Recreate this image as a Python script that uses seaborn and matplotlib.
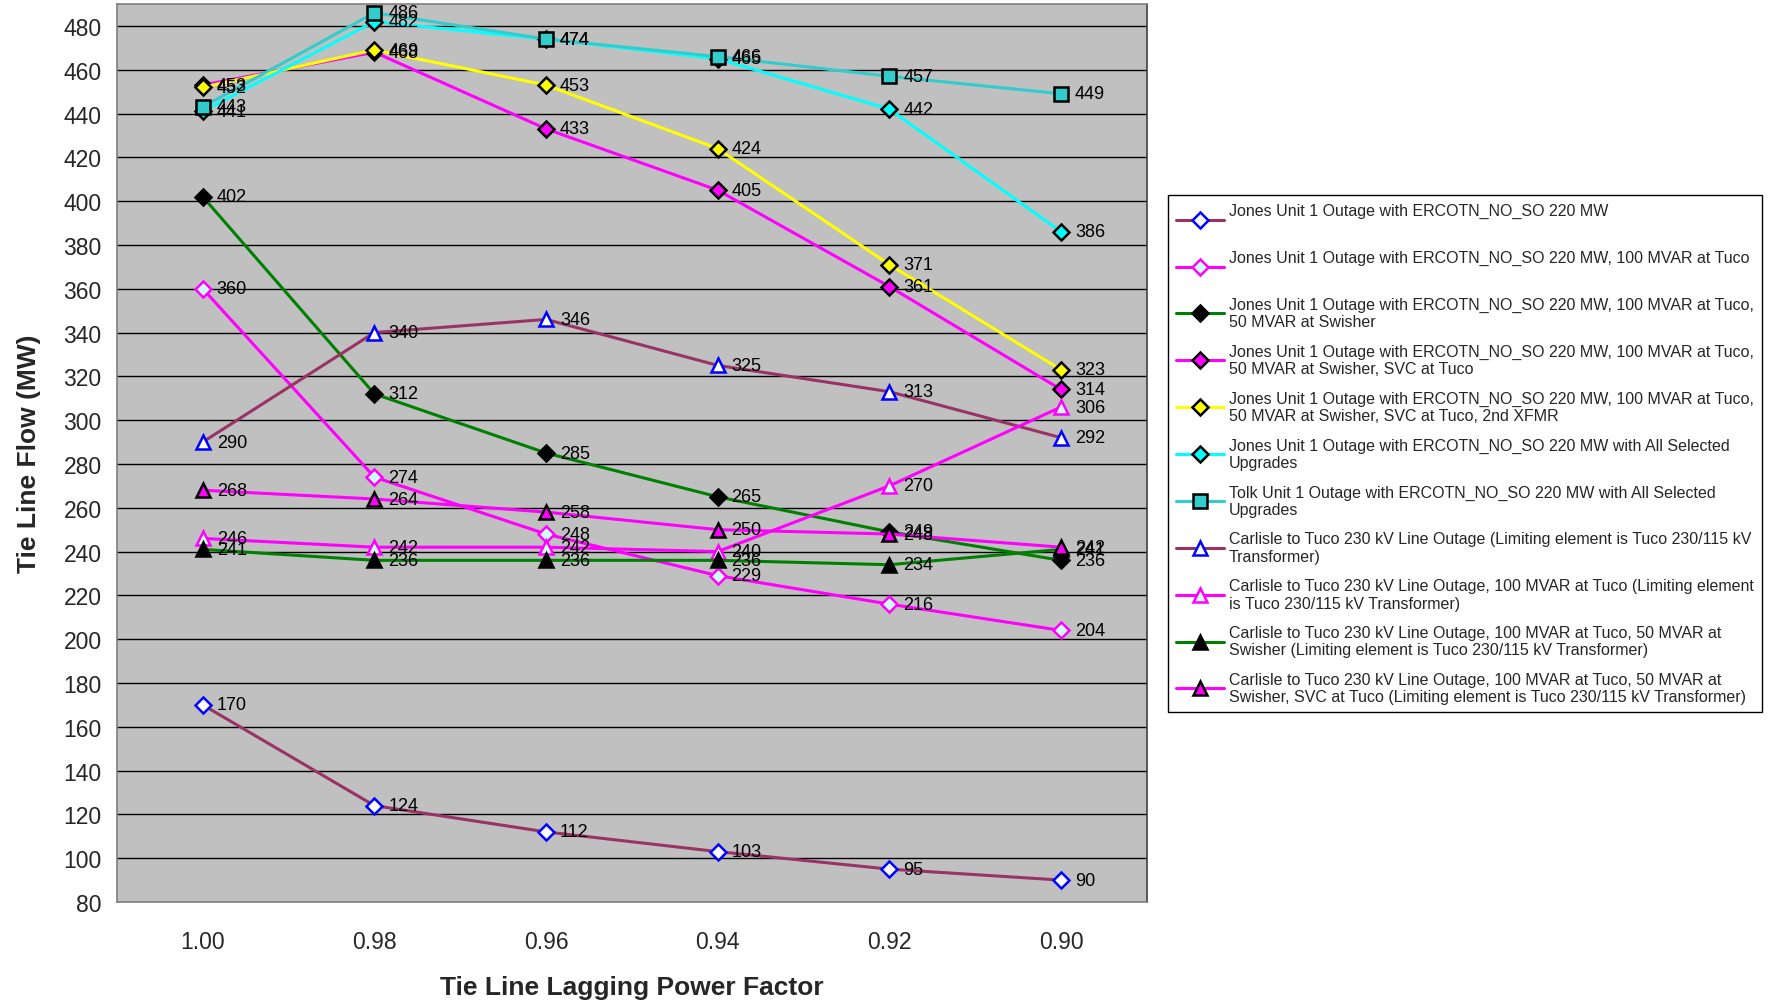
import numpy as np
import pandas as pd
import matplotlib
matplotlib.use("Agg")
import matplotlib.pyplot as plt
import seaborn as sns

# -----------------------------
# Data
# -----------------------------
power_factors = ["1.00", "0.98", "0.96", "0.94", "0.92", "0.90"]

jones_base = [170, 124, 112, 103, 95, 90]
jones_100tuco = [360, 274, 248, 229, 216, 204]
jones_50swisher = [402, 312, 285, 265, 249, 236]
jones_svc = [453, 468, 433, 405, 361, 314]
jones_2nd_xfmr = [452, 469, 453, 424, 371, 323]
jones_all = [441, 482, 474, 465, 442, 386]
tolk_all = [443, 486, 474, 466, 457, 449]
carlisle_base = [290, 340, 346, 325, 313, 292]
carlisle_100tuco = [246, 242, 242, 240, 270, 306]
carlisle_50swisher = [241, 236, 236, 236, 234, 241]
carlisle_svc = [268, 264, 258, 250, 248, 242]

labels = [
    "Jones Unit 1 Outage with ERCOTN_NO_SO 220 MW\n",
    "Jones Unit 1 Outage with ERCOTN_NO_SO 220 MW, 100 MVAR at Tuco\n",
    "Jones Unit 1 Outage with ERCOTN_NO_SO 220 MW, 100 MVAR at Tuco,\n50 MVAR at Swisher",
    "Jones Unit 1 Outage with ERCOTN_NO_SO 220 MW, 100 MVAR at Tuco,\n50 MVAR at Swisher, SVC at Tuco",
    "Jones Unit 1 Outage with ERCOTN_NO_SO 220 MW, 100 MVAR at Tuco,\n50 MVAR at Swisher, SVC at Tuco, 2nd XFMR",
    "Jones Unit 1 Outage with ERCOTN_NO_SO 220 MW with All Selected\nUpgrades",
    "Tolk Unit 1 Outage with ERCOTN_NO_SO 220 MW with All Selected\nUpgrades",
    "Carlisle to Tuco 230 kV Line Outage (Limiting element is Tuco 230/115 kV\nTransformer)",
    "Carlisle to Tuco 230 kV Line Outage, 100 MVAR at Tuco (Limiting element\nis Tuco 230/115 kV Transformer)",
    "Carlisle to Tuco 230 kV Line Outage, 100 MVAR at Tuco, 50 MVAR at\nSwisher (Limiting element is Tuco 230/115 kV Transformer)",
    "Carlisle to Tuco 230 kV Line Outage, 100 MVAR at Tuco, 50 MVAR at\nSwisher, SVC at Tuco (Limiting element is Tuco 230/115 kV Transformer)",
]

series = [jones_base, jones_100tuco, jones_50swisher, jones_svc, jones_2nd_xfmr,
          jones_all, tolk_all, carlisle_base, carlisle_100tuco,
          carlisle_50swisher, carlisle_svc]

# line color, marker, marker face, marker edge
styles = [
    ("#993366", "D", "white", "#0000FF"),
    ("#FF00FF", "D", "#CCFFFF", "#FF00FF"),
    ("#008000", "D", "black", "black"),
    ("#FF00FF", "D", "#FF00FF", "black"),
    ("#FFFF00", "D", "#FFFF00", "black"),
    ("#00FFFF", "D", "#00FFFF", "black"),
    ("#33CCCC", "s", "#33CCCC", "black"),
    ("#993366", "^", "white", "#0000FF"),
    ("#FF00FF", "^", "#CCFFFF", "#FF00FF"),
    ("#008000", "^", "black", "black"),
    ("#FF00FF", "^", "#FF00FF", "black"),
]

# -----------------------------
# Plot
# -----------------------------
sns.set_style("white")
plt.rcParams["font.family"] = ["Liberation Sans", "DejaVu Sans"]

fig = plt.figure(figsize=(17.77, 10.03), dpi=100)
ax = fig.add_axes([0.0658, 0.0997, 0.5796, 0.8953])
ax.set_facecolor("#C0C0C0")

x = np.arange(len(power_factors))

for vals, lab, (lc, mk, mfc, mec) in zip(series, labels, styles):
    df = pd.DataFrame({"pf": x, "flow": vals})
    msize = 8 if mk == "D" else 10
    sns.lineplot(
        data=df, x="pf", y="flow", ax=ax,
        color=lc, linewidth=2.2, marker=mk, markersize=msize,
        markerfacecolor=mfc, markeredgecolor=mec, markeredgewidth=1.8,
        label=lab
    )
    for xi, v in zip(x, vals):
        ax.annotate(str(v), (xi, v), xytext=(10, 0), textcoords="offset points",
                    va="center", ha="left", fontsize=13, color="black")

ax.set_xlim(-0.5, 5.5)
ax.set_ylim(80, 490)
ax.set_yticks(np.arange(80, 481, 20))
ax.yaxis.grid(True, color="black", linewidth=1)
ax.xaxis.grid(False)

ax.set_xticks(x)
ax.set_xticklabels(power_factors)
ax.set_xticks(np.arange(-0.5, 5.6, 1), minor=True)
ax.tick_params(axis="x", which="major", length=0, pad=20, labelsize=16.5)
ax.tick_params(axis="x", which="minor", length=7, width=1, color="#808080", direction="out")
ax.tick_params(axis="y", which="major", length=5, width=1, color="#808080",
               direction="out", labelsize=16.5, pad=6)

for side in ["left", "bottom", "top", "right"]:
    ax.spines[side].set_visible(True)
    ax.spines[side].set_color("#808080")
    ax.spines[side].set_linewidth(1.2)
ax.spines["right"].set_color("#404040")

ax.set_xlabel("Tie Line Lagging Power Factor", fontsize=19, fontweight="bold", labelpad=16)
ax.set_ylabel("Tie Line Flow (MW)", fontsize=19, fontweight="bold", labelpad=16)

ax.legend(
    loc="upper left", bbox_to_anchor=(0.6573, 0.8046), bbox_transform=fig.transFigure,
    fontsize=11.5, frameon=True, fancybox=False, edgecolor="black",
    framealpha=1, handlelength=3.0, labelspacing=0.9, borderpad=0.5,
    handletextpad=0.3, borderaxespad=0
).get_frame().set_linewidth(1.0)

plt.savefig("out.png", dpi=100)
plt.close()
